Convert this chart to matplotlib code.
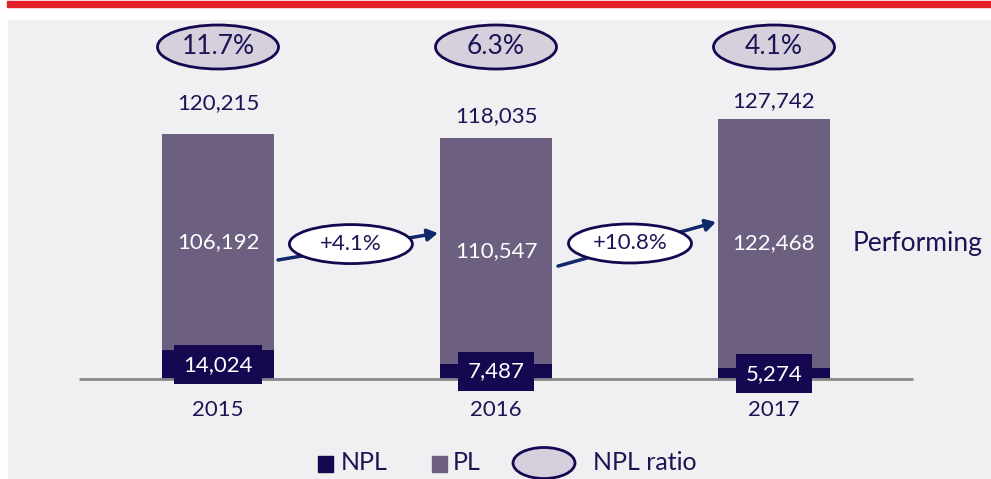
import matplotlib
matplotlib.use("Agg")
import matplotlib.pyplot as plt
from matplotlib.patches import Ellipse, Rectangle, FancyArrowPatch

years = ["2015", "2016", "2017"]
npl = [14024, 7487, 5274]
pl = [106192, 110547, 122468]
total = [120215, 118035, 127742]
total_offset_px = [31, 22, 18]   # gap between bar top and total label

C_PL = "#6d5f80"
C_NPL = "#150850"
C_TXT = "#1c1454"
C_ARROW = "#10296a"
C_RATIO = "#d6d0dc"
C_BG = "#f0eff2"
C_RED = "#e3202a"

W, H = 991, 479
plt.rcParams["font.family"] = ["Lato", "DejaVu Sans"]

fig = plt.figure(figsize=(W / 100, H / 100), dpi=100)
fig.patch.set_facecolor("white")


def fpx(x, y):
    # pixel position (from top-left) -> figure fraction
    return x / W, 1 - y / H


# grey panel and red rule on top
fig.patches.append(Rectangle(fpx(8, H), (W - 8) / W, (H - 20) / H,
                             transform=fig.transFigure, color=C_BG, zorder=-2))
fig.patches.append(Rectangle(fpx(7, 6.5), (W - 7) / W, 5.5 / H,
                             transform=fig.transFigure, color=C_RED, zorder=-2))

ax = fig.add_axes([0, 0, 1, 1], zorder=1)
ax.set_facecolor("none")
ax.set_xlim(-218 / 278, (W - 218) / 278)
ax.set_ylim(-100 / 2.038 * 1000, (H - 100) / 2.038 * 1000)
ax.axis("off")

x = list(range(len(years)))
ax.bar(x, npl, width=0.4, color=C_NPL, zorder=2)
ax.bar(x, pl, bottom=npl, width=0.4, color=C_PL, zorder=2)
ax.plot([-0.5, 2.5], [0, 0], color="#888888", lw=2, zorder=3, solid_capstyle="butt")

FS = 16
ky = 1000 / 2.038  # data units per pixel
for i in x:
    # NPL value in a dark box
    ax.text(i, npl[i] / 2, f"{npl[i]:,}", ha="center", va="center", fontsize=FS,
            color="white", zorder=5,
            bbox=dict(boxstyle="square,pad=0.42", fc=C_NPL, ec="none"))
    ax.text(i, npl[i] + pl[i] / 2, f"{pl[i]:,}", ha="center", va="center",
            fontsize=FS, color="white", zorder=4)
    ax.text(i, total[i] + total_offset_px[i] * ky, f"{total[i]:,}", ha="center",
            va="center", fontsize=FS, color=C_TXT)
    ax.text(i, -31 * ky, years[i], ha="center", va="center", fontsize=FS, color=C_TXT)
    # NPL ratio bubble
    ax.add_patch(Ellipse((i, 332 * ky), 121 / 278, 44 * ky, fc=C_RATIO,
                         ec=C_NPL, lw=2, zorder=3))
    ax.text(i, 332 * ky, f"{npl[i] / total[i] * 100:.1f}%", ha="center",
            va="center", fontsize=FS + 3, color=C_TXT, zorder=4)

# performing-loan growth arrows
arrows = [((0.216, 58.4e3), (0.791, 71.6e3), (0.478, 66.2e3)),
          ((1.223, 55.4e3), (1.791, 77.0e3), (1.482, 66.5e3))]
for i, (a, b, c) in enumerate(arrows):
    ax.add_patch(FancyArrowPatch(a, b, arrowstyle="-|>,head_length=6,head_width=3.5",
                                 color=C_ARROW, lw=2.5, zorder=3,
                                 shrinkA=0, shrinkB=0))
    ax.add_patch(Ellipse(c, 123 / 278, 39 * ky, fc="white", ec=C_NPL, lw=2, zorder=4))
    g = (pl[i + 1] / pl[i] - 1) * 100
    ax.text(c[0], c[1], f"+{g:.1f}%", ha="center", va="center", fontsize=FS,
            color=C_TXT, zorder=5)

fig.text(*fpx(853, 243), "Performing", ha="left", va="center", fontsize=19, color=C_TXT)

# legend
fig.patches.append(Rectangle(fpx(318, 472), 15 / W, 16 / H, transform=fig.transFigure,
                             color=C_NPL))
fig.text(*fpx(341, 463), "NPL", ha="left", va="center", fontsize=18, color=C_TXT)
fig.patches.append(Rectangle(fpx(432, 472), 15 / W, 16 / H, transform=fig.transFigure,
                             color=C_PL))
fig.text(*fpx(453, 463), "PL", ha="left", va="center", fontsize=18, color=C_TXT)
fig.patches.append(Ellipse(fpx(544, 463), 62 / W, 31 / H, transform=fig.transFigure,
                           fc=C_RATIO, ec=C_NPL, lw=2))
fig.text(*fpx(593, 463), "NPL ratio", ha="left", va="center", fontsize=18, color=C_TXT)

fig.savefig("out.png", dpi=100, facecolor=fig.get_facecolor())
